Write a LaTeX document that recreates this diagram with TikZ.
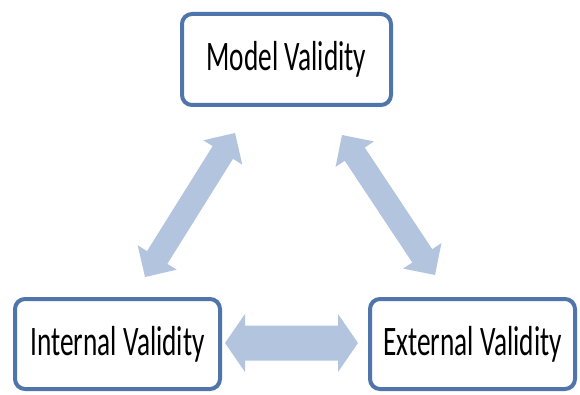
\documentclass[tikz,border=0pt]{standalone}
\usepackage{fontspec}
\setmainfont{Carlito}[FakeStretch=0.65]
\usetikzlibrary{calc}

\definecolor{boxblue}{HTML}{4F75AA}
\definecolor{arrowblue}{HTML}{B3C4DE}

% Filled double-headed block arrow between two named points.
% #1, #2: tips; #3: shaft half-width; #4: head half-width; #5: head length
\newcommand\blockarrow[5]{%
  \fill[arrowblue]
    (#1)
    -- ($(#1)!#5!(#2)!#4!90:(#2)$)
    -- ($(#1)!#5!(#2)!#3!90:(#2)$)
    -- ($(#2)!#5!(#1)!#3!-90:(#1)$)
    -- ($(#2)!#5!(#1)!#4!-90:(#1)$)
    -- (#2)
    -- ($(#2)!#5!(#1)!#4!90:(#1)$)
    -- ($(#2)!#5!(#1)!#3!90:(#1)$)
    -- ($(#1)!#5!(#2)!#3!-90:(#2)$)
    -- ($(#1)!#5!(#2)!#4!-90:(#2)$)
    -- cycle;}

\begin{document}
\begin{tikzpicture}[x=1pt,y=-1pt,
  box/.style={draw=boxblue, line width=4pt, rounded corners=10pt,
    fill=white, inner sep=0pt, text=black,
    font=\fontsize{42}{50}\selectfont},
  topbox/.style={box, minimum width=209pt, minimum height=91pt},
  sidebox/.style={box, minimum width=205pt, minimum height=90pt}]
\useasboundingbox (0,0) rectangle (580,395);

% the three validity boxes
\node[topbox]  (model)    at (286.5,59.5) {Model Validity};
\node[sidebox] (internal) at (117.5,344)  {Internal Validity};
\node[sidebox] (external) at (472.5,344)  {External Validity};

% arrow tips between the boxes
\coordinate (ieL) at (225,343);
\coordinate (ieR) at (358,343);
\coordinate (imB) at (145,277);
\coordinate (imT) at (235,133);
\coordinate (emT) at (342,135);
\coordinate (emB) at (435,275);

\blockarrow{ieL}{ieR}{17.5pt}{29pt}{20pt}
\blockarrow{imB}{imT}{12pt}{23pt}{23pt}
\blockarrow{emT}{emB}{12pt}{23pt}{23pt}
\end{tikzpicture}
\end{document}
